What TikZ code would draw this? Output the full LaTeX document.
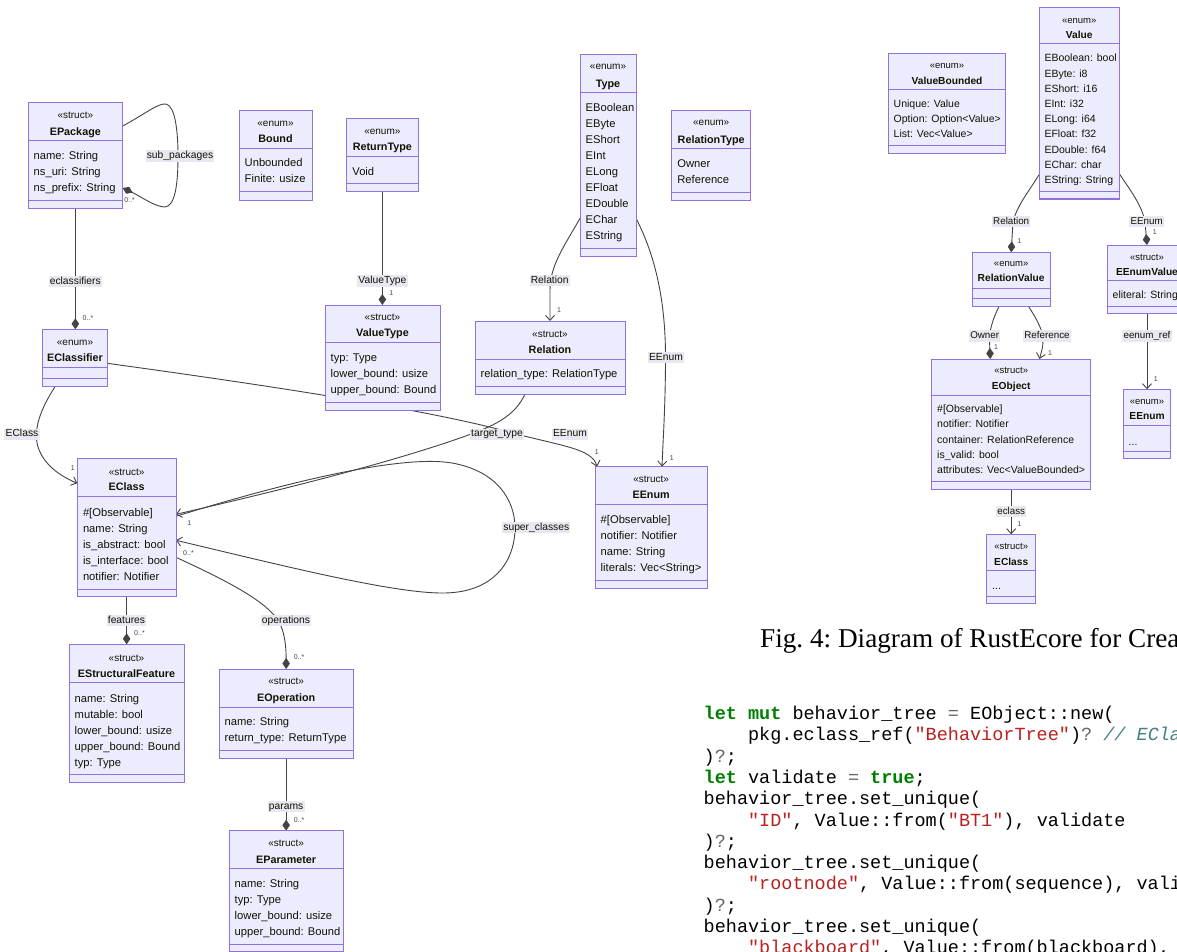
\documentclass[tikz,border=0pt]{standalone}
\usepackage{fontspec}
\setmainfont{Liberation Sans}
\newfontfamily\capfont{Liberation Serif}
\newfontfamily\codefont[WordSpace={1,0,0},PunctuationSpace=WordSpace]{Liberation Mono}
\usetikzlibrary{arrows.meta,calc}
\pgfdeclarelayer{paper}
\pgfdeclarelayer{edges}
\pgfsetlayers{paper,edges,main}
\definecolor{boxfill}{HTML}{ECECFF}
\definecolor{boxline}{HTML}{9370DB}
\definecolor{edgec}{HTML}{444444}
\definecolor{labbg}{HTML}{E8E8F2}
\definecolor{txtc}{HTML}{131300}
\definecolor{kwgreen}{HTML}{008000}
\definecolor{strred}{HTML}{BA2121}
\definecolor{comc}{HTML}{408080}
\definecolor{opgray}{HTML}{666666}
\newcommand\kw[1]{\textcolor{kwgreen}{\bfseries #1}}
\newcommand\cstr[1]{\textcolor{strred}{#1}}
\newcommand\cop[1]{\textcolor{opgray}{#1}}
\newcommand\ccom[1]{\textcolor{comc}{\itshape #1}}
\newcommand\umlbox[7]{%
  \pgfmathsetmacro\bw{#4-#2}\pgfmathsetmacro\bh{#7-#3}%
  \node[clsbox, minimum width=\bw pt, minimum height=\bh pt] (#1) at ({(#2+#4)/2},{(#3+#7)/2}) {};
  \draw[clsline] (#2,#5) -- (#4,#5) (#2,#6) -- (#4,#6);
}
\tikzset{
  clsbox/.style={draw=boxline, fill=boxfill, line width=1pt, inner sep=0pt, outer sep=0pt, rectangle},
  clsline/.style={draw=boxline, line width=1pt},
  st/.style={font=\fontsize{10}{12}\selectfont, text=txtc, anchor=base, yshift=-3.3pt, inner sep=0pt},
  tt/.style={font=\fontsize{10.8}{12}\selectfont\bfseries, text=txtc, anchor=base, yshift=-3.8pt, inner sep=0pt},
  mem/.style={font=\fontsize{11.2}{13}\selectfont, text=txtc, anchor=base west, yshift=-3.8pt, inner sep=0pt},
  stR/.style={font=\fontsize{9.5}{11}\selectfont, text=txtc, anchor=base, yshift=-3.1pt, inner sep=0pt},
  ttR/.style={font=\fontsize{10.2}{12}\selectfont\bfseries, text=txtc, anchor=base, yshift=-3.6pt, inner sep=0pt},
  memR/.style={font=\fontsize{10.5}{12}\selectfont, text=txtc, anchor=base west, yshift=-3.6pt, inner sep=0pt},
  elab/.style={fill=labbg, inner xsep=1.2pt, inner ysep=0.6pt, text height=7.6pt, text depth=2.3pt, font=\fontsize{10.3}{12}\selectfont, text=txtc},
  elabR/.style={elab, font=\fontsize{9.8}{11}\selectfont},
  card/.style={font=\fontsize{7}{8}\selectfont, text=edgec, inner sep=0pt},
  comp/.style={draw=edgec, line width=0.9pt, -{Diamond[length=11pt,width=7.5pt]}},
  assoc/.style={draw=edgec, line width=0.9pt, -{Straight Barb[length=5pt,width=9pt]}},
  code/.style={font=\codefont\fontsize{18.5}{21}\selectfont\frenchspacing, anchor=base west, inner sep=0pt, text=black}
}
\begin{document}
\begin{tikzpicture}[x=1pt,y=-1pt]
\clip (0,0) rectangle (1177,952);
\begin{pgfonlayer}{paper}
\fill[white] (0,0) rectangle (1177,952);
\end{pgfonlayer}

% ---------- boxes ----------
\umlbox{EPackage}{28}{102.7}{122.7}{141}{200}{208}
\umlbox{Bound}{239}{110.7}{312}{149}{192}{200}
\umlbox{ReturnType}{346.7}{119}{418}{157}{184}{192}
\umlbox{ValueType}{325}{305}{440}{342.7}{402.7}{410.7}
\umlbox{Type}{580}{54.3}{636}{92.3}{248}{256.7}
\umlbox{RelationType}{671.7}{110.7}{750.7}{149}{192.7}{200}
\umlbox{Relation}{475}{321}{625}{359.3}{386.7}{394}
\umlbox{EClassifier}{42.7}{329.3}{107.3}{367.3}{378.3}{386.7}
\umlbox{EClassL}{77.3}{458.3}{176}{496.7}{589.3}{596.7}
\umlbox{EEnumS}{595}{466.7}{707.3}{504}{580}{588}
\umlbox{EStructuralFeature}{69}{644.3}{184}{682.7}{774.3}{782.7}
\umlbox{EOperation}{219}{669}{353.3}{707.3}{750.7}{758.3}
\umlbox{EParameter}{229}{830.7}{343.3}{868.7}{944.3}{951.5}
\umlbox{ValueBounded}{888.3}{54}{1005.7}{89.3}{145.7}{153.3}
\umlbox{Value}{1039}{7.7}{1119.3}{43.3}{191.7}{199}
\umlbox{RelationValue}{972.3}{252.3}{1050}{288.3}{298.3}{306}
\umlbox{EEnumValue}{1107.7}{245}{1186.3}{280}{306}{313.3}
\umlbox{EObject}{931.7}{359}{1090.7}{395.7}{481.7}{489.3}
\umlbox{EClassR}{986.7}{534.3}{1035.7}{570}{596}{603.3}
\umlbox{EEnumR}{1123.3}{389.3}{1170.7}{425.7}{451.7}{458.3}

% ---------- connectors (behind the boxes) ----------
\begin{pgfonlayer}{edges}
\draw[comp] ($(EPackage.north east)+(0,23.3)$) .. controls (145,114) and (158,103) .. (166,104)
  .. controls (175,106) and (178,130) .. (178,156)
  .. controls (178,185) and (175,206) .. (165,207)
  .. controls (155,207) and (140,196) .. ($(EPackage.north east)+(0,85.3)$);
\draw[comp] (EPackage.south) -- (EPackage.south |- EClassifier.north);
\draw[assoc] ($(EClassifier.south west)+(12.3,0)$) .. controls (40,410) and (33,430) .. (38,447)
  .. controls (44,465) and (60,476) .. ($(EClassL.north west)+(0,25)$);
\draw[assoc] ($(EClassifier.north east)+(0,34)$) .. controls (250,383) and (420,408) .. (505,431)
  .. controls (560,446) and (592,448) .. ($(EEnumS.north west)+(2,0)$);
\draw[assoc] ($(Relation.south west)+(50,0)$) .. controls (515,416) and (495,426) .. (460,438)
  .. controls (380,466) and (260,495) .. ($(EClassL.north east)+(0,56)$);
\draw[assoc] ($(EClassL.north east)+(0,58)$) .. controls (300,478) and (405,455) .. (452,463)
  .. controls (497,471) and (515,500) .. (515,528)
  .. controls (515,560) and (495,592) .. (445,593)
  .. controls (395,594) and (280,565) .. ($(EClassL.north east)+(0,82)$);
\draw[comp] (EClassL.south) -- (EClassL.south |- EStructuralFeature.north);
\draw[comp] ($(EClassL.north east)+(0,99)$) .. controls (225,580) and (272,603) .. (281,626)
  .. controls (285,636) and (286.15,648) .. (EOperation.north);
\draw[comp] (EOperation.south) -- (EParameter.north);
\draw[comp] (ReturnType.south) -- (ReturnType.south |- ValueType.north);
\draw[assoc] ($(Type.north west)+(0,164)$) .. controls (565,245) and (550,265) .. (550,290) -- (Relation.north);
\draw[assoc] ($(Type.north east)+(0,164)$) .. controls (655,255) and (665.5,300) .. (665.5,357)
  .. controls (665.5,405) and (663,440) .. ($(EEnumS.north west)+(67,0)$);
\draw[comp] ($(Value.north west)+(0,167)$) .. controls (1030,190) and (1017,205) .. (1013,222) -- (RelationValue.north);
\draw[comp] ($(Value.north east)+(0,166)$) .. controls (1130,190) and (1142,205) .. (1145,222) -- (EEnumValue.north);
\draw[comp] ($(RelationValue.south west)+(27,0)$) .. controls (993,318) and (989.5,330) .. (989.5,340) -- ($(EObject.north west)+(58.5,0)$);
\draw[assoc] ($(RelationValue.south west)+(56,0)$) .. controls (1036,318) and (1043,330) .. (1043,340)
  .. controls (1043,348) and (1041,353) .. ($(EObject.north west)+(107.8,0)$);
\draw[assoc] (EObject.south) -- (EClassR.north);
\draw[assoc] (EEnumValue.south) -- (EEnumR.north);
\end{pgfonlayer}

% ---------- box texts ----------
\node[st] (t1) at (75.35,115) {«struct»};
\node[tt] (t2) at (75.35,131.6) {EPackage};
\node[mem] (t3) at (33.5,156) {name: String};
\node[mem] (t4) at (33.5,172) {ns\_uri: String};
\node[mem] (t5) at (33.5,188) {ns\_prefix: String};

\node[st] (t6) at (275.5,123) {«enum»};
\node[tt] (t7) at (275.5,139) {Bound};
\node[mem] (t8) at (244.5,163) {Unbounded};
\node[mem] (t9) at (244.5,179) {Finite: usize};

\node[st] (t10) at (382.35,131.7) {«enum»};
\node[tt] (t11) at (382.35,147) {ReturnType};
\node[mem] (t12) at (352.2,171.7) {Void};

\node[st] (t13) at (382.5,317) {«struct»};
\node[tt] (t14) at (382.5,333) {ValueType};
\node[mem] (t15) at (330.5,358) {typ: Type};
\node[mem] (t16) at (330.5,374) {lower\_bound: usize};
\node[mem] (t17) at (330.5,390) {upper\_bound: Bound};

\node[st] (t18) at (608,66.7) {«enum»};
\node[tt] (t19) at (608,83.3) {Type};
\node[mem] (t20) at (585.5,107.7) {EBoolean};
\node[mem] (t21) at (585.5,123.7) {EByte};
\node[mem] (t22) at (585.5,139.7) {EShort};
\node[mem] (t23) at (585.5,155.7) {EInt};
\node[mem] (t24) at (585.5,171.7) {ELong};
\node[mem] (t25) at (585.5,187.7) {EFloat};
\node[mem] (t26) at (585.5,203.7) {EDouble};
\node[mem] (t27) at (585.5,219.7) {EChar};
\node[mem] (t28) at (585.5,235.7) {EString};

\node[st] (t29) at (711.2,122.7) {«enum»};
\node[tt] (t30) at (711.2,139.3) {RelationType};
\node[mem] (t31) at (677.2,163.3) {Owner};
\node[mem] (t32) at (677.2,179.3) {Reference};

\node[st] (t33) at (550,334) {«struct»};
\node[tt] (t34) at (550,350) {Relation};
\node[mem] (t35) at (480.5,374) {relation\_type: RelationType};

\node[st] (t36) at (75,341.7) {«enum»};
\node[tt] (t37) at (75,357.3) {EClassifier};

\node[st] (t38) at (126.65,471.7) {«struct»};
\node[tt] (t39) at (126.65,486.7) {EClass};
\node[mem] (t40) at (82.8,512.3) {\#[Observable]};
\node[mem] (t41) at (82.8,528.3) {name: String};
\node[mem] (t42) at (82.8,544.3) {is\_abstract: bool};
\node[mem] (t43) at (82.8,560.3) {is\_interface: bool};
\node[mem] (t44) at (82.8,576.3) {notifier: Notifier};

\node[st] (t45) at (651.15,479.3) {«struct»};
\node[tt] (t46) at (651.15,495) {EEnum};
\node[mem] (t47) at (600.5,519.3) {\#[Observable]};
\node[mem] (t48) at (600.5,535.5) {notifier: Notifier};
\node[mem] (t49) at (600.5,551.5) {name: String};
\node[mem] (t50) at (600.5,567.5) {literals: Vec<String>};

\node[st] (t51) at (126.5,657.7) {«struct»};
\node[tt] (t52) at (126.5,673.3) {EStructuralFeature};
\node[mem] (t53) at (74.5,698.3) {name: String};
\node[mem] (t54) at (74.5,714.3) {mutable: bool};
\node[mem] (t55) at (74.5,730.3) {lower\_bound: usize};
\node[mem] (t56) at (74.5,746.3) {upper\_bound: Bound};
\node[mem] (t57) at (74.5,762.3) {typ: Type};

\node[st] (t58) at (286.15,681) {«struct»};
\node[tt] (t59) at (286.15,697.3) {EOperation};
\node[mem] (t60) at (224.5,721.7) {name: String};
\node[mem] (t61) at (224.5,737.7) {return\_type: ReturnType};

\node[st] (t62) at (286.15,843.3) {«struct»};
\node[tt] (t63) at (286.15,859.3) {EParameter};
\node[mem] (t64) at (234.5,884) {name: String};
\node[mem] (t65) at (234.5,900) {typ: Type};
\node[mem] (t66) at (234.5,916) {lower\_bound: usize};
\node[mem] (t67) at (234.5,932) {upper\_bound: Bound};

% right diagram
\node[stR] (r1) at (947,65.7) {«enum»};
\node[ttR] (r2) at (947,80.7) {ValueBounded};
\node[memR] (r3) at (893.5,104) {Unique: Value};
\node[memR] (r4) at (893.5,119.2) {Option: Option<Value>};
\node[memR] (r5) at (893.5,134.4) {List: Vec<Value>};

\node[stR] (r6) at (1079.15,20.7) {«enum»};
\node[ttR] (r7) at (1079.15,35) {Value};
\node[memR] (r8) at (1044.3,58.3) {EBoolean: bool};
\node[memR] (r9) at (1044.3,73.5) {EByte: i8};
\node[memR] (r10) at (1044.3,88.7) {EShort: i16};
\node[memR] (r11) at (1044.3,103.9) {EInt: i32};
\node[memR] (r12) at (1044.3,119.1) {ELong: i64};
\node[memR] (r13) at (1044.3,134.3) {EFloat: f32};
\node[memR] (r14) at (1044.3,149.5) {EDouble: f64};
\node[memR] (r15) at (1044.3,164.7) {EChar: char};
\node[memR] (r16) at (1044.3,179.9) {EString: String};

\node[stR] (r17) at (1011.15,263.3) {«enum»};
\node[ttR] (r18) at (1011.15,278.3) {RelationValue};

\node[stR] (r19) at (1147,257.3) {«struct»};
\node[ttR] (r20) at (1147,272.3) {EEnumValue};
\node[memR] (r21) at (1112.5,295) {eliteral: String};

\node[stR] (r22) at (1011.2,370.7) {«struct»};
\node[ttR] (r23) at (1011.2,386) {EObject};
\node[memR] (r24) at (937,409) {\#[Observable]};
\node[memR] (r25) at (937,424.2) {notifier: Notifier};
\node[memR] (r26) at (937,439.4) {container: RelationReference};
\node[memR] (r27) at (937,454.6) {is\_valid: bool};
\node[memR] (r28) at (937,469.8) {attributes: Vec<ValueBounded>};

\node[stR] (r29) at (1011.2,546.7) {«struct»};
\node[ttR] (r30) at (1011.2,561.7) {EClass};
\node[memR] (r31) at (992,586) {...};

\node[stR] (r32) at (1147,401) {«enum»};
\node[ttR] (r33) at (1147,416) {EEnum};
\node[memR] (r34) at (1128.5,441.7) {...};

% ---------- edge labels ----------
\node[elab] (l1) at (180,156) {sub\_packages};
\node[elab] (l2) at (75.3,281.5) {eclassifiers};
\node[elab] (l3) at (22,434.3) {EClass};
\node[elab] (l4) at (570,434.3) {EEnum};
\node[elab] (l5) at (497,434.3) {target\_type};
\node[elab] (l6) at (536.3,527.7) {super\_classes};
\node[elab] (l7) at (126.5,620.7) {features};
\node[elab] (l8) at (286,620.7) {operations};
\node[elab] (l9) at (286.15,806.7) {params};
\node[elab] (l10) at (382.4,281) {ValueType};
\node[elab] (l11) at (549.7,280.7) {Relation};
\node[elab] (l12) at (666,357.7) {EEnum};
\node[elabR] (l13) at (1011.2,221.7) {Relation};
\node[elabR] (l14) at (1146.7,221.7) {EEnum};
\node[elabR] (l15) at (984.7,336) {Owner};
\node[elabR] (l16) at (1047,336) {Reference};
\node[elabR] (l17) at (1011.2,511.7) {eclass};
\node[elabR] (l18) at (1147,336) {eenum\_ref};

% ---------- cardinalities ----------
\node[card] (c1) at (129.7,200) {0..*};
\node[card] (c2) at (88,318) {0..*};
\node[card] (c3) at (72.7,468) {1};
\node[card] (c4) at (596.7,451.7) {1};
\node[card] (c5) at (189.3,523.3) {1};
\node[card] (c6) at (188.5,553) {0..*};
\node[card] (c7) at (139.5,633.3) {0..*};
\node[card] (c8) at (299,657.3) {0..*};
\node[card] (c9) at (299,820) {0..*};
\node[card] (c10) at (391.3,293.3) {1};
\node[card] (c11) at (559,310.5) {1};
\node[card] (c12) at (671.7,457.7) {1};
\node[card] (c13) at (1019.3,240.7) {1};
\node[card] (c14) at (1154.7,231.7) {1};
\node[card] (c15) at (996,346.7) {1};
\node[card] (c16) at (1050,353.3) {1};
\node[card] (c17) at (1019.3,524.3) {1};
\node[card] (c18) at (1155.7,379.3) {1};

% ---------- caption ----------
\node[anchor=base west, inner sep=0pt, font=\capfont\fontsize{27.2}{30}\selectfont\frenchspacing] (cap) at (760,647.3) {Fig. 4: Diagram of RustEcore for Crea};

% ---------- code ----------
\node[code] (k0) at (703.5,719.5) {\kw{let} \kw{mut} behavior\_tree \cop{=} EObject::new(};
\node[code] (k1) at (747.9,740.8) {pkg.eclass\_ref(\cstr{"BehaviorTree"})\cop{?} \ccom{// ECla}};
\node[code] (k2) at (703.5,762.1) {)\cop{?};};
\node[code] (k3) at (703.5,783.4) {\kw{let} validate \cop{=} \kw{true};};
\node[code] (k4) at (703.5,804.7) {behavior\_tree.set\_unique(};
\node[code] (k5) at (747.9,826.0) {\cstr{"ID"}, Value::from(\cstr{"BT1"}), validate};
\node[code] (k6) at (703.5,847.3) {)\cop{?};};
\node[code] (k7) at (703.5,868.6) {behavior\_tree.set\_unique(};
\node[code] (k8) at (747.9,889.9) {\cstr{"rootnode"}, Value::from(sequence), vali};
\node[code] (k9) at (703.5,911.2) {)\cop{?};};
\node[code] (k10) at (703.5,932.5) {behavior\_tree.set\_unique(};
\node[code] (k11) at (747.9,953.8) {\cstr{"blackboard"}, Value::from(blackboard),};
\end{tikzpicture}
\end{document}
